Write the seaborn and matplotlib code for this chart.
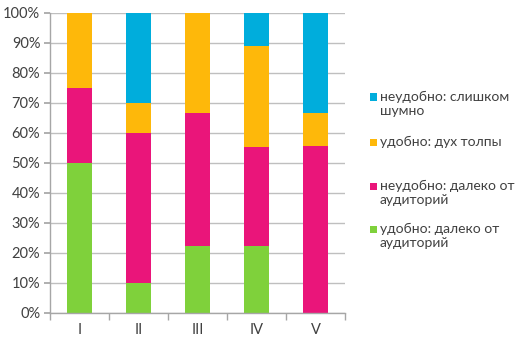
import matplotlib
matplotlib.use("Agg")
import matplotlib.pyplot as plt
import seaborn as sns
import numpy as np
import pandas as pd
from matplotlib.patches import Rectangle

categories = ["I", "II", "III", "IV", "V"]
series_names = ["удобно: далеко от\nаудиторий", "неудобно: далеко от\nаудиторий",
                "удобно: дух толпы", "неудобно: слишком\nшумно"]
green = [50.0, 10.0, 22.2, 22.2, 0.0]
magenta = [25.0, 50.0, 44.5, 33.3, 55.6]
orange = [25.0, 10.0, 33.3, 33.4, 11.1]
blue = [0.0, 30.0, 0.0, 11.1, 33.3]
colors = ["#7FD13B", "#EA157A", "#FEB80A", "#00ADDC"]

sns.set_theme(style="white")
plt.rcParams['font.family'] = ['Lato', 'DejaVu Sans']

W, H = 518, 344
fig = plt.figure(figsize=(W/100, H/100), dpi=100)
ax = fig.add_axes([50/W, 31/H, 295/W, 300/H])

bottom = np.zeros(len(categories))
for vals, name, c in zip([green, magenta, orange, blue], series_names, colors):
    df = pd.DataFrame({"cat": categories, "val": vals})
    sns.barplot(data=df, x="cat", y="val", color=c, width=0.41, bottom=bottom,
                ax=ax, saturation=1, edgecolor="none", linewidth=0)
    bottom = bottom + np.array(vals)

ax.set_ylim(0, 100)
ax.set_xlim(-0.5, 4.5)
ax.set_yticks(np.arange(0, 101, 10))
ax.set_yticklabels([f"{v}%" for v in range(0, 101, 10)], fontsize=10.5, color="#404040")
ax.set_xticks(range(5))
ax.set_xticklabels(categories, fontsize=10.5, color="#404040")
ax.set_xlabel("")
ax.set_ylabel("")
ax.yaxis.grid(True, color="#BFBFBF", linewidth=1)
ax.set_axisbelow(True)
for s in ["top", "right"]:
    ax.spines[s].set_visible(False)
for s in ["left", "bottom"]:
    ax.spines[s].set_color("#A6A6A6")
    ax.spines[s].set_linewidth(1)
ax.tick_params(axis="y", length=4, color="#A6A6A6", left=True, pad=3)
ax.tick_params(axis="x", length=0, pad=7)
ax.set_xticks(np.arange(-0.5, 5, 1), minor=True)
ax.tick_params(axis="x", which="minor", length=5, color="#A6A6A6", bottom=True)

# legend (Excel-style: square aligned to first text line)
first_line_y = [97, 142, 186, 229]  # pixel rows from top, legend order
for (name, c), yc in zip(list(zip(series_names, colors))[::-1], first_line_y):
    fig.patches.append(Rectangle((370/W, 1-(yc+3.5)/H), 7/W, 7/H, facecolor=c,
                                 edgecolor="none", transform=fig.transFigure, figure=fig))
    fig.text(380/W, 1-(yc-6.5)/H, name, ha="left", va="top", fontsize=10,
             color="#404040", linespacing=1.2)

fig.savefig("out.png", dpi=100)
